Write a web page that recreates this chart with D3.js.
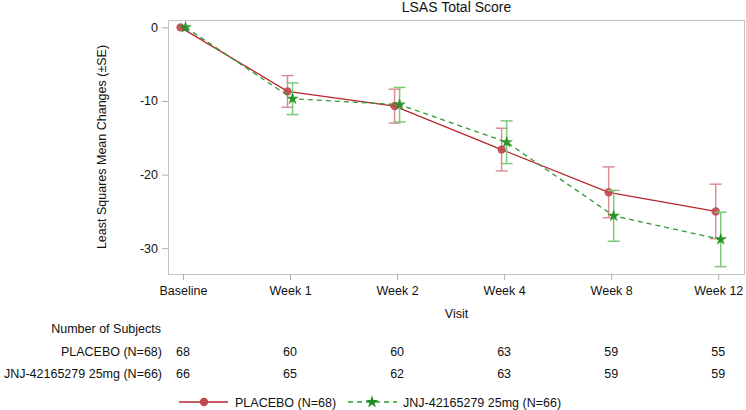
<!DOCTYPE html>
<html>
<head>
<meta charset="utf-8">
<script src="https://cdn.jsdelivr.net/npm/d3@7"></script>
<style>
  body { margin: 0; background: #fff; }
  text { font-family: Arial, "Liberation Sans", sans-serif; fill: #111; }
</style>
</head>
<body>
<script>
const visits = ['Baseline', 'Week 1', 'Week 2', 'Week 4', 'Week 8', 'Week 12'];
const placeboMean = [0, -8.7, -10.7, -16.6, -22.4, -25.0];
const placeboSE = [0, 2.15, 2.3, 2.9, 3.45, 3.7];
const jnjMean = [0, -9.7, -10.5, -15.6, -25.6, -28.8];
const jnjSE = [0, 2.15, 2.35, 2.9, 3.45, 3.7];
const placeboN = [68, 60, 60, 63, 59, 55];
const jnjN = [66, 65, 62, 63, 59, 59];
const yTicks = [0, -10, -20, -30];
const groups = ['PLACEBO (N=68)', 'JNJ-42165279 25mg (N=66)'];

function main() {
  const width = 746;
  const height = 410;
  const svg = d3.select('body').append('svg')
    .attr('width', width)
    .attr('height', height);

  const left = 168, right = 745, top = 20, bottom = 274;

  const x = d3.scaleLinear().domain([-0.14, 5.25]).range([left, right]);
  const y = d3.scaleLinear().domain([1, -33.5]).range([top, bottom]);

  const series = [
    { name: groups[0], mean: placeboMean, se: placeboSE, off: -2.5,
      line: '#b8262c', bar: '#dc8f93', marker: 'circle', dash: null },
    { name: groups[1], mean: jnjMean, se: jnjSE, off: 2.5,
      line: '#2f9a2f', bar: '#7ccb7c', marker: 'star', dash: '5,4' },
  ];

  // frame
  svg.append('rect')
    .attr('x', left + 0.5).attr('y', top + 0.5)
    .attr('width', right - left - 1).attr('height', bottom - top)
    .attr('fill', 'none').attr('stroke', '#c4c4c4').attr('stroke-width', 1);

  // axes
  const yAxis = svg.append('g')
    .attr('transform', `translate(${left},0)`)
    .call(d3.axisLeft(y).tickValues(yTicks).tickFormat(d => String(d))
      .tickSize(6).tickPadding(4));
  const xAxis = svg.append('g')
    .attr('transform', `translate(0,${bottom})`)
    .call(d3.axisBottom(x).tickValues(d3.range(visits.length))
      .tickFormat(i => visits[i]).tickSize(6).tickPadding(6));
  [xAxis, yAxis].forEach(g => {
    g.select('.domain').remove();
    g.selectAll('line').attr('stroke', '#b0b0b0');
    g.selectAll('text').attr('font-size', 12.5).attr('fill', '#111');
  });

  svg.append('text')
    .attr('x', (left + right) / 2).attr('y', 12)
    .attr('text-anchor', 'middle').attr('font-size', 14)
    .text('LSAS Total Score');

  svg.append('text')
    .attr('transform', `translate(106,${(top + bottom) / 2}) rotate(-90)`)
    .attr('text-anchor', 'middle').attr('font-size', 12.5)
    .text('Least Squares Mean Changes (\u00b1SE)');

  svg.append('text')
    .attr('x', (left + right) / 2).attr('y', 318)
    .attr('text-anchor', 'middle').attr('font-size', 12.5)
    .text('Visit');

  const star = d3.symbol().type(d3.symbolStar).size(50);
  const circ = d3.symbol().type(d3.symbolCircle).size(55);

  series.forEach(s => {
    const g = svg.append('g');
    const pts = s.mean.map((m, i) => ({ i, m, se: s.se[i] }));
    const px = d => x(d.i) + s.off;

    // error bars
    const eb = g.selectAll('.eb').data(pts.filter(d => d.se > 0)).enter().append('g');
    eb.append('line')
      .attr('x1', px).attr('x2', px)
      .attr('y1', d => y(d.m + d.se)).attr('y2', d => y(d.m - d.se))
      .attr('stroke', s.bar).attr('stroke-width', 1.5);
    [1, -1].forEach(sg => {
      eb.append('line')
        .attr('x1', d => px(d) - 6).attr('x2', d => px(d) + 6)
        .attr('y1', d => y(d.m + sg * d.se)).attr('y2', d => y(d.m + sg * d.se))
        .attr('stroke', s.bar).attr('stroke-width', 1.5);
    });

    g.append('path')
      .datum(pts)
      .attr('d', d3.line().x(px).y(d => y(d.m)))
      .attr('fill', 'none').attr('stroke', s.line).attr('stroke-width', 1.3)
      .attr('stroke-dasharray', s.dash);

    g.selectAll('.mk').data(pts).enter().append('path')
      .attr('transform', d => `translate(${px(d)},${y(d.m)})`)
      .attr('d', s.marker === 'star' ? star : circ)
      .attr('fill', s.marker === 'star' ? '#1e8f1e' : '#c0484d')
      .attr('fill-opacity', 0.9);
  });

  // subject table
  const tbl = svg.append('g');
  tbl.append('text').attr('x', 161).attr('y', 333)
    .attr('text-anchor', 'end').attr('font-size', 12.5).text('Number of Subjects');
  [[groups[0], placeboN, 356], [groups[1], jnjN, 378]].forEach(([name, ns, yy]) => {
    tbl.append('text').attr('x', 162).attr('y', yy)
      .attr('text-anchor', 'end').attr('font-size', 12.5).text(name);
    tbl.selectAll(null).data(ns).enter().append('text')
      .attr('x', (d, i) => x(i)).attr('y', yy)
      .attr('text-anchor', 'middle').attr('font-size', 12.5)
      .text(d => d);
  });

  // legend
  const ly = 402;
  const leg = svg.append('g');
  leg.append('line').attr('x1', 179).attr('x2', 228).attr('y1', ly).attr('y2', ly)
    .attr('stroke', series[0].line).attr('stroke-width', 1.3);
  leg.append('path').attr('transform', `translate(204,${ly})`).attr('d', circ)
    .attr('fill', '#c0484d');
  leg.append('text').attr('x', 235).attr('y', ly + 4.5).attr('font-size', 12.5)
    .text(groups[0]);
  leg.append('line').attr('x1', 348).attr('x2', 397).attr('y1', ly).attr('y2', ly)
    .attr('stroke', series[1].line).attr('stroke-width', 1.3)
    .attr('stroke-dasharray', '5,4');
  leg.append('path').attr('transform', `translate(372,${ly})`).attr('d', star)
    .attr('fill', '#1e8f1e');
  leg.append('text').attr('x', 403).attr('y', ly + 4.5).attr('font-size', 12.5)
    .text(groups[1]);
}

main();
</script>
</body>
</html>
